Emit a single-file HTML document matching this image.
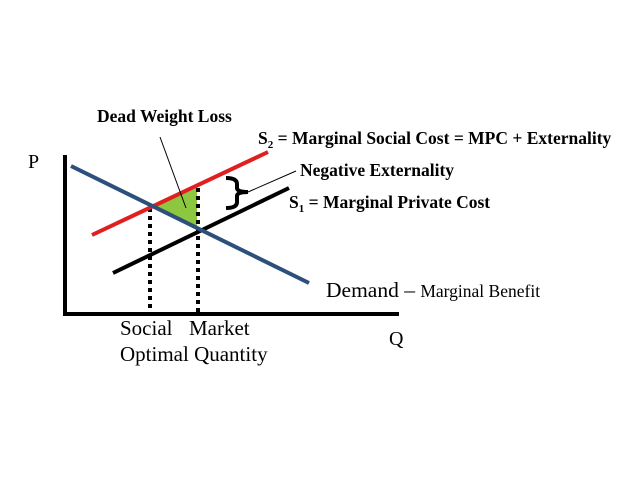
<!DOCTYPE html>
<html><head><meta charset="utf-8"><style>
html,body{margin:0;padding:0;background:#fff;}
svg{display:block;}
text{font-family:"Liberation Serif",serif;}
.b{font-weight:bold;font-size:17.5px;}
</style></head><body>
<svg width="640" height="480" viewBox="0 0 640 480" xmlns="http://www.w3.org/2000/svg">
<rect width="640" height="480" fill="#fff"/>
<polyline points="65,155 65,314 399,314" fill="none" stroke="#000" stroke-width="4"/>
<polygon points="153,207 197,188 197,228" fill="#8dc63f"/>
<line x1="150" y1="208" x2="150" y2="312" stroke="#000" stroke-width="4" stroke-dasharray="4,4"/>
<line x1="198" y1="188" x2="198" y2="312" stroke="#000" stroke-width="4" stroke-dasharray="4,4"/>
<line x1="113" y1="273" x2="289" y2="188" stroke="#000" stroke-width="4"/>
<line x1="92" y1="235" x2="268" y2="152" stroke="#e02020" stroke-width="4"/>
<line x1="71" y1="166" x2="309" y2="283" stroke="#2c4f7c" stroke-width="4"/>
<line x1="160" y1="137" x2="186" y2="208" stroke="#000" stroke-width="1"/>
<path d="M226,178 Q237,178 237,184 L237,188 Q237,192 248,192 Q237,192 237,196 L237,202 Q237,208 226,208" fill="none" stroke="#000" stroke-width="4"/>
<line x1="248" y1="192" x2="296" y2="171" stroke="#000" stroke-width="1"/>
<text x="97" y="122" class="b" font-size="18">Dead Weight Loss</text>
<text x="258" y="144" class="b">S<tspan font-size="11" dy="4">2</tspan><tspan dy="-4"> = Marginal Social Cost = MPC + Externality</tspan></text>
<text x="300" y="176" class="b">Negative Externality</text>
<text x="289" y="208" class="b">S<tspan font-size="11" dy="4">1</tspan><tspan dy="-4"> = Marginal Private Cost</tspan></text>
<text x="326" y="297" font-size="21.5">Demand – <tspan font-size="17.5">Marginal Benefit</tspan></text>
<text x="28" y="168" font-size="20">P</text>
<text x="389" y="345" font-size="20">Q</text>
<text x="120" y="335" font-size="21">Social</text>
<text x="189" y="335" font-size="21">Market</text>
<text x="120" y="361" font-size="21">Optimal Quantity</text>
</svg>
</body></html>
